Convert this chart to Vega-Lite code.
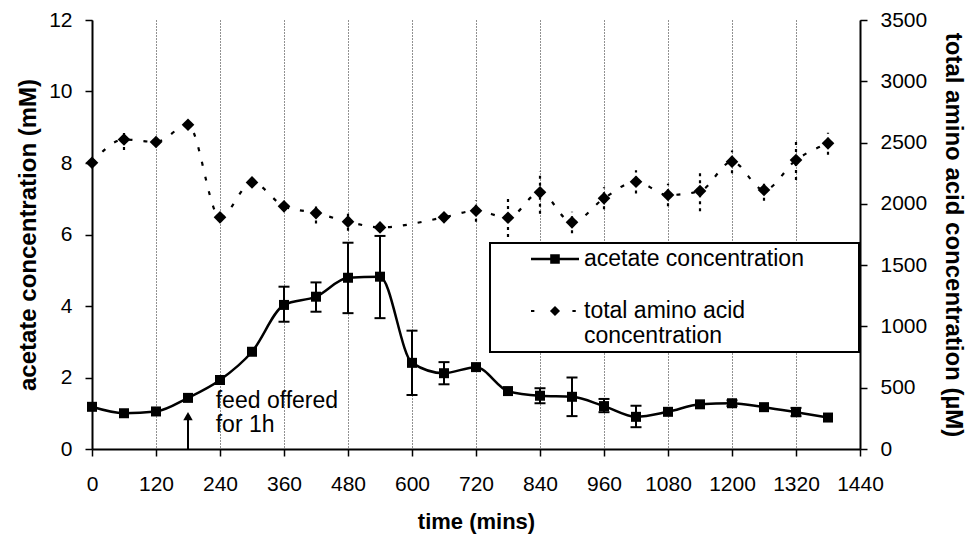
{
  "$schema": "https://vega.github.io/schema/vega-lite/v6.json",
  "width": 768,
  "height": 429,
  "autosize": "none",
  "padding": {"left": 92, "top": 20, "right": 120, "bottom": 89},
  "background": "white",
  "config": {
    "font": "Liberation Sans",
    "view": {"stroke": null},
    "legend": {"strokeWidth": 2},
    "axis": {
      "labelColor": "black",
      "titleColor": "black",
      "domainColor": "black",
      "tickColor": "black",
      "domainWidth": 2,
      "tickWidth": 1.5,
      "tickSize": 7,
      "labelFontSize": 21,
      "titleFontWeight": "bold",
      "labelFlush": false,
      "labelOverlap": false,
      "format": "d"
    }
  },
  "datasets": {
    "acetate": [
      {"t": 0, "v": 1.18, "lo": null, "hi": null},
      {"t": 60, "v": 1.0, "lo": null, "hi": null},
      {"t": 120, "v": 1.05, "lo": null, "hi": null},
      {"t": 180, "v": 1.43, "lo": null, "hi": null},
      {"t": 240, "v": 1.93, "lo": null, "hi": null},
      {"t": 300, "v": 2.72, "lo": null, "hi": null},
      {"t": 360, "v": 4.03, "lo": 3.56, "hi": 4.54},
      {"t": 420, "v": 4.26, "lo": 3.84, "hi": 4.66},
      {"t": 480, "v": 4.79, "lo": 3.8, "hi": 5.77},
      {"t": 540, "v": 4.82, "lo": 3.66, "hi": 5.96},
      {"t": 600, "v": 2.41, "lo": 1.51, "hi": 3.31},
      {"t": 660, "v": 2.12, "lo": 1.81, "hi": 2.43},
      {"t": 720, "v": 2.29, "lo": null, "hi": null},
      {"t": 780, "v": 1.62, "lo": null, "hi": null},
      {"t": 840, "v": 1.49, "lo": 1.28, "hi": 1.7},
      {"t": 900, "v": 1.46, "lo": 0.92, "hi": 2.0},
      {"t": 960, "v": 1.2, "lo": 1.03, "hi": 1.4},
      {"t": 1020, "v": 0.9, "lo": 0.61, "hi": 1.21},
      {"t": 1080, "v": 1.04, "lo": null, "hi": null},
      {"t": 1140, "v": 1.25, "lo": null, "hi": null},
      {"t": 1200, "v": 1.28, "lo": 1.2, "hi": 1.36},
      {"t": 1260, "v": 1.17, "lo": null, "hi": null},
      {"t": 1320, "v": 1.03, "lo": 0.92, "hi": 1.15},
      {"t": 1380, "v": 0.88, "lo": null, "hi": null}
    ],
    "amino": [
      {"t": 0, "v": 2335, "lo": null, "hi": null},
      {"t": 60, "v": 2525, "lo": 2440, "hi": 2610},
      {"t": 120, "v": 2505, "lo": null, "hi": null},
      {"t": 180, "v": 2645, "lo": null, "hi": null},
      {"t": 240, "v": 1890, "lo": null, "hi": null},
      {"t": 300, "v": 2175, "lo": null, "hi": null},
      {"t": 360, "v": 1980, "lo": null, "hi": null},
      {"t": 420, "v": 1925, "lo": 1840, "hi": 2010},
      {"t": 480, "v": 1855, "lo": 1780, "hi": 1935},
      {"t": 540, "v": 1808, "lo": null, "hi": null},
      {"t": 660, "v": 1890, "lo": null, "hi": null},
      {"t": 720, "v": 1944, "lo": 1855, "hi": 2030},
      {"t": 780, "v": 1887, "lo": 1730, "hi": 2050},
      {"t": 840, "v": 2094, "lo": 1920, "hi": 2265},
      {"t": 900, "v": 1849, "lo": 1760, "hi": 1935},
      {"t": 960, "v": 2045, "lo": 1955, "hi": 2135},
      {"t": 1020, "v": 2180, "lo": 2085, "hi": 2275},
      {"t": 1080, "v": 2072, "lo": 1980, "hi": 2165},
      {"t": 1140, "v": 2104, "lo": 1940, "hi": 2265},
      {"t": 1200, "v": 2344, "lo": 2250, "hi": 2435},
      {"t": 1260, "v": 2113, "lo": 2025, "hi": 2195},
      {"t": 1320, "v": 2357, "lo": 2195, "hi": 2515},
      {"t": 1380, "v": 2494, "lo": 2400, "hi": 2580}
    ],
    "series": [
      {"t": 0, "v": 0, "series": "acetate concentration"},
      {"t": 0, "v": 0, "series": "total amino acid concentration"}
    ],
    "note": [
      {"t": 232, "v": 1.33, "label": "feed offered\nfor 1h"}
    ],
    "arrow": [
      {"t": 180, "v0": 0, "v1": 0.92}
    ]
  },
  "layer": [
    {
      "layer": [
        {
          "data": {"name": "acetate"},
          "mark": {"type": "rule", "opacity": 0},
          "encoding": {
            "x": {
              "field": "t", "type": "quantitative",
              "scale": {"domain": [0, 1440], "nice": false, "zero": true},
              "axis": {
                "values": [0, 120, 240, 360, 480, 600, 720, 840, 960, 1080, 1200, 1320, 1440],
                "title": "time (mins)",
                "titleFontSize": 22,
                "titlePadding": 17,
                "labelPadding": 17,
                "grid": true,
                "gridColor": "#222",
                "gridDash": [1, 2],
                "gridWidth": 1
              }
            },
            "y": {
              "field": "v", "type": "quantitative",
              "scale": {"domain": [0, 12], "nice": false},
              "axis": {
                "orient": "left",
                "values": [0, 2, 4, 6, 8, 10, 12],
                "title": "acetate concentration (mM)",
                "titleFontSize": 24,
                "titlePadding": 8,
                "labelPadding": 13,
                "grid": false
              }
            }
          }
        },
        {
          "data": {"name": "note"},
          "mark": {"type": "text", "align": "left", "baseline": "middle", "fontSize": 23, "lineBreak": "\n", "lineHeight": 24, "color": "black"},
          "encoding": {
            "x": {"field": "t", "type": "quantitative"},
            "y": {"field": "v", "type": "quantitative"},
            "text": {"field": "label", "type": "nominal"}
          }
        },
        {
          "data": {"name": "arrow"},
          "mark": {"type": "rule", "color": "black", "strokeWidth": 2},
          "encoding": {
            "x": {"field": "t", "type": "quantitative"},
            "y": {"field": "v0", "type": "quantitative"},
            "y2": {"field": "v1"}
          }
        },
        {
          "data": {"name": "arrow"},
          "mark": {"type": "point", "shape": "triangle-up", "filled": true, "color": "black", "size": 90, "opacity": 1},
          "encoding": {
            "x": {"field": "t", "type": "quantitative"},
            "y": {"field": "v1", "type": "quantitative"}
          }
        },
        {
          "data": {"name": "acetate"},
          "transform": [{"filter": "datum.lo != null"}],
          "mark": {"type": "rule", "color": "black", "strokeWidth": 2},
          "encoding": {
            "x": {"field": "t", "type": "quantitative"},
            "y": {"field": "lo", "type": "quantitative"},
            "y2": {"field": "hi"}
          }
        },
        {
          "data": {"name": "acetate"},
          "transform": [{"filter": "datum.lo != null"}],
          "mark": {"type": "tick", "orient": "horizontal", "color": "black", "size": 11, "thickness": 2, "opacity": 1},
          "encoding": {
            "x": {"field": "t", "type": "quantitative"},
            "y": {"field": "lo", "type": "quantitative"}
          }
        },
        {
          "data": {"name": "acetate"},
          "transform": [{"filter": "datum.lo != null"}],
          "mark": {"type": "tick", "orient": "horizontal", "color": "black", "size": 11, "thickness": 2, "opacity": 1},
          "encoding": {
            "x": {"field": "t", "type": "quantitative"},
            "y": {"field": "hi", "type": "quantitative"}
          }
        },
        {
          "data": {"name": "acetate"},
          "mark": {"type": "line", "color": "black", "strokeWidth": 2.5, "interpolate": "monotone"},
          "encoding": {
            "x": {"field": "t", "type": "quantitative"},
            "y": {"field": "v", "type": "quantitative"}
          }
        },
        {
          "data": {"name": "acetate"},
          "mark": {"type": "point", "shape": "square", "filled": true, "color": "black", "size": 100, "opacity": 1},
          "encoding": {
            "x": {"field": "t", "type": "quantitative"},
            "y": {"field": "v", "type": "quantitative"}
          }
        },
        {
          "data": {"name": "series"},
          "mark": {"type": "point", "filled": true, "color": "black", "opacity": 0},
          "encoding": {
            "x": {"field": "t", "type": "quantitative"},
            "y": {"field": "v", "type": "quantitative"},
            "shape": {
              "field": "series", "type": "nominal",
              "scale": {
                "domain": ["acetate concentration", "total amino acid concentration"],
                "range": [
                  "M-2,-0.1H2V0.1H-2ZM-0.4,-0.4H0.4V0.4H-0.4Z",
                  "M-2,-0.08H-1.72V0.08H-2ZM1.45,-0.08H1.73V0.08H1.45ZM0,-0.42L0.42,0L0,0.42L-0.42,0Z"
                ]
              },
              "legend": {
                "orient": "none",
                "legendX": 398,
                "legendY": 223,
                "title": null,
                "fillColor": "white",
                "strokeColor": "black",
                "padding": 4,
                "symbolSize": 576,
                "symbolStrokeWidth": 0,
                "symbolFillColor": "black",
                "symbolStrokeColor": "black",
                "symbolOpacity": 1,
                "symbolOffset": 49,
                "labelOffset": 17,
                "labelFontSize": 23,
                "labelColor": "black",
                "labelLimit": 600,
                "labelBaseline": "middle",
                "rowPadding": 28,
                "labelExpr": "datum.label == 'total amino acid concentration' ? ['total amino acid', 'concentration'] : datum.label + '\u2800\u2800\u2800'"
              }
            }
          }
        }
      ]
    },
    {
      "layer": [
        {
          "data": {"name": "amino"},
          "transform": [{"filter": "datum.lo != null"}],
          "mark": {"type": "rule", "color": "black", "strokeWidth": 2.2, "strokeDash": [3, 4]},
          "encoding": {
            "x": {"field": "t", "type": "quantitative"},
            "y": {
              "field": "lo", "type": "quantitative",
              "scale": {"domain": [0, 3500], "nice": false},
              "axis": {
                "orient": "right",
                "values": [0, 500, 1000, 1500, 2000, 2500, 3000, 3500],
                "title": "total amino acid concentration (µM)",
                "titleFontSize": 24,
                "titlePadding": 14,
                "labelPadding": 13,
                "grid": false
              }
            },
            "y2": {"field": "hi"}
          }
        },
        {
          "data": {"name": "amino"},
          "mark": {"type": "line", "color": "black", "strokeWidth": 2.2, "strokeDash": [4, 11], "interpolate": "monotone"},
          "encoding": {
            "x": {"field": "t", "type": "quantitative"},
            "y": {"field": "v", "type": "quantitative"}
          }
        },
        {
          "data": {"name": "amino"},
          "mark": {"type": "point", "shape": "diamond", "filled": true, "color": "black", "size": 160, "opacity": 1},
          "encoding": {
            "x": {"field": "t", "type": "quantitative"},
            "y": {"field": "v", "type": "quantitative"}
          }
        }
      ]
    }
  ],
  "resolve": {"scale": {"y": "independent"}}
}
